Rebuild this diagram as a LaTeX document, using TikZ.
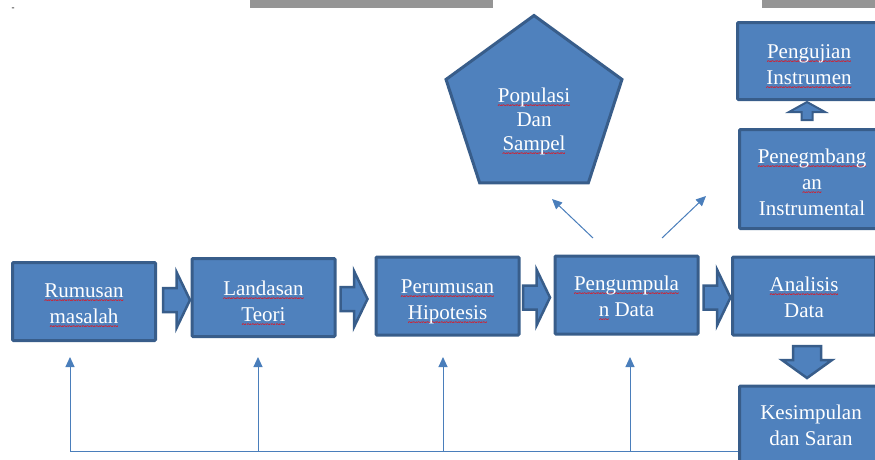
\documentclass[tikz,border=0pt]{standalone}
\usepackage{fontspec}
\setmainfont{Liberation Serif}
\usetikzlibrary{positioning}
\usetikzlibrary{shapes.geometric}
\usetikzlibrary{arrows.meta}

\definecolor{boxfill}{HTML}{4F81BD}
\definecolor{boxline}{HTML}{385D8A}
\definecolor{fbblue}{HTML}{4A7EBB}
\definecolor{topgray}{HTML}{959595}

% red spell-check wave under a word
\newcommand{\sq}[1]{\setbox0\hbox{#1}\rlap{\color{red}\raisebox{-6pt}{\hbox to\wd0{\fontsize{8.5}{8.5}\selectfont\bfseries\xleaders\hbox{\char126}\hfil}}}\box0}
% invisible strut that pushes the lines down
\newcommand{\tp}[1]{\rule{0pt}{#1}}

\tikzset{
  stepbox/.style={draw=boxline,fill=boxfill,line width=3pt,rounded corners=1pt,minimum width=143pt,minimum height=78pt,inner sep=2pt,align=center,text=white,font=\fontsize{21}{26}\selectfont},
  pentabox/.style={draw=boxline,fill=boxfill,line width=3pt,regular polygon,regular polygon sides=5,minimum size=185pt,inner sep=0pt,align=center,text=white,font=\fontsize{21}{24}\selectfont},
  flowpoly/.style={draw=boxline,fill=boxfill,line width=2.5pt,line join=miter},
  fb/.style={draw=fbblue,line width=1pt,-{Triangle[length=10pt,width=9pt]}},
  fbline/.style={draw=fbblue,line width=1pt},
  rightflow/.pic={\path[flowpoly] (-13.5,-12) -- (0,-12) -- (0,-28) -- (13.5,0) -- (0,28) -- (0,12) -- (-13.5,12) -- cycle;},
  downflow/.pic={\path[flowpoly] (-14,-16) -- (14,-16) -- (14,-2) -- (25,-2) -- (0,16) -- (-25,-2) -- (-14,-2) -- cycle;},
  upflow/.pic={\path[flowpoly,line width=2pt] (-5.5,9) -- (-5.5,1) -- (-18,1) -- (0,-9) -- (18,1) -- (5.5,1) -- (5.5,9) -- cycle;}
}

\begin{document}
\begin{tikzpicture}[x=1pt,y=-1pt]
  \useasboundingbox (0,0) rectangle (875,459);
  \fill[topgray] (250,0) rectangle (493,8);
  \fill[topgray] (762,0) rectangle (875,8);
  \node (dash) at (13,9) {\fontsize{9}{9}\selectfont -};

  % feedback lines
  \coordinate (fb1) at (70,451);
  \coordinate (fb2) at (258,451);
  \coordinate (fb3) at (443,451);
  \coordinate (fb4) at (630,451);
  \coordinate (tips) at (0,357);

  \node [stepbox] (rumusan)     at (84,301.5)  {\tp{24pt}\sq{Rumusan}\\\sq{masalah}};
  \node [stepbox] (landasan)    at (263.5,297.5) {\tp{28pt}\sq{Landasan}\\\sq{Teori}};
  \node [stepbox] (perumusan)   at (447.5,296) {\tp{26pt}\sq{Perumusan}\\\sq{Hipotesis}};
  \node [stepbox] (pengumpulan) at (626.5,295) {\tp{22pt}\sq{Pengumpula}\\\sq{n}\ Data};
  \node [stepbox] (analisis)    at (804,296)   {\tp{18pt}\sq{Analisis}\\Data};
  \node [stepbox] (kesimpulan)  at (811,425)   {Kesimpulan\\dan Saran};
  \node [stepbox,minimum width=145pt,minimum height=99pt] (penegmbangan) at (812,179) {\tp{22pt}\sq{Penegmbang}\\\sq{an}\\Instrumental};
  \node [stepbox,minimum height=77pt] (pengujian) at (809,61) {\tp{26pt}\sq{Pengujian}\\\sq{Instrumen}};
  \node [pentabox] (populasi) at (534,108) {\mbox{}\\[19pt]\sq{Populasi}\\Dan\\\sq{Sampel}};

  \pic at (176.5,300) {rightflow};
  \pic at (354,299) {rightflow};
  \pic at (536.5,297.5) {rightflow};
  \pic at (717,297.5) {rightflow};
  \pic at (807,362) {downflow};
  \pic at (807,111) {upflow};

  \coordinate (dl) at (593,238);
  \coordinate (dlend) at (552,199);
  \coordinate (dr) at (662,238);
  \coordinate (drend) at (706,196);
  \draw [fb] (dl) -- (dlend);
  \draw [fb] (dr) -- (drend);

  \draw [fbline] (fb1) -- (fb1 -| kesimpulan.west);
  \foreach \k in {1,...,4}
    \draw [fb] (fb\k) -- (fb\k |- tips);
\end{tikzpicture}
\end{document}
